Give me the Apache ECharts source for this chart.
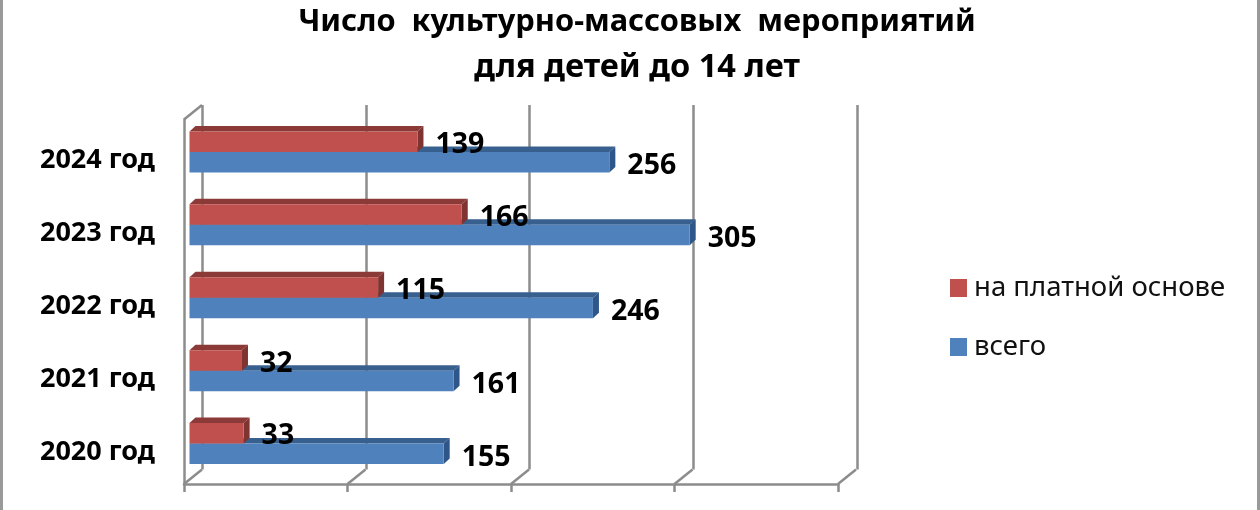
<!DOCTYPE html>
<html>
<head>
<meta charset="utf-8">
<style>html,body{margin:0;padding:0;background:#fff}#c{width:1260px;height:510px}</style>
<script src="https://cdn.jsdelivr.net/npm/echarts@6/dist/echarts.min.js"></script>
</head>
<body>
<div id="c"></div>
<script>
const categories = ['2020 год','2021 год','2022 год','2023 год','2024 год'];
const paidValues = [33,32,115,166,139];
const totalValues = [155,161,246,305,256];
const paidName = 'на платной основе';
const totalName = 'всего';
const axisTicks = [0,100,200,300,400];
const titleLine1 = 'Число  культурно-массовых  мероприятий';
const titleLine2 = 'для детей до 14 лет';

const FONT = '"Noto Sans", sans-serif';
const WALL = '#8c8c8c';
const DEPTH = [18,-14.5];
const BAR_DEPTH = [6,-5.5];
const BAR_H = 20.5;
const COL = {
  red:{front:'#C0504D',top:'#8C3A38',side:'#7F3432'},
  blue:{front:'#4F81BD',top:'#38608F',side:'#2F5688'}
};

function poly(points,fill){return {type:'polygon',shape:{points},style:{fill}};}

function barRender(kind){
  return function(params,api){
    const v=api.value(0),p0=api.coord([0,api.value(1)]),p1=api.coord([v,api.value(1)]);
    const y0=kind==='red'?p0[1]-BAR_H:p0[1],y1=y0+BAR_H,x0=p0[0],x1=p1[0];
    const dx=BAR_DEPTH[0],dy=BAR_DEPTH[1],c=COL[kind];
    return {type:'group',children:[
      poly([[x0,y0],[x0+dx,y0+dy],[x1+dx,y0+dy],[x1,y0]],c.top),
      poly([[x1,y0],[x1+dx,y0+dy],[x1+dx,y1+dy],[x1,y1]],c.side),
      {type:'rect',shape:{x:x0,y:y0,width:x1-x0,height:BAR_H},style:{fill:c.front}},
      {type:'text',z2:50,style:{text:String(v),x:x1+dx+12,y:y0+BAR_H/2+(kind==='red'?3:4),
        verticalAlign:'middle',align:'left',fill:'#000',font:'bold 28.5px '+FONT}}
    ]};
  };
}
function floorRender(params,api){
  const p=api.coord([api.value(0),categories[0]]);
  const size=api.size([0,1]);
  const y=p[1]+size[1]/2;
  return {type:'line',shape:{x1:p[0],y1:y,x2:p[0]+DEPTH[0],y2:y+DEPTH[1]},style:{stroke:WALL,lineWidth:2.5}};
}
function topLeftRender(params,api){
  const p=api.coord([0,categories[categories.length-1]]);
  const size=api.size([0,1]);
  const y=p[1]-size[1]/2;
  return {type:'line',shape:{x1:p[0],y1:y,x2:p[0]+DEPTH[0],y2:y+DEPTH[1]},style:{stroke:WALL,lineWidth:2.5}};
}

const valueAxisBase={type:'value',min:0,max:400,interval:100,axisLabel:{show:false}};
const catAxisBase={type:'category',data:categories,axisTick:{show:false}};

const chart=echarts.init(document.getElementById('c'),null,{renderer:'canvas'});
chart.setOption({
  animation:false,
  backgroundColor:'#fff',
  title:{text:'{a|'+titleLine1+'}\n{b|'+titleLine2+'}',left:632,top:-5,textAlign:'center',
    textStyle:{fontFamily:FONT,fontWeight:'bold',color:'#000',lineHeight:45,
      rich:{
        a:{fontFamily:FONT,fontWeight:'bold',fontSize:30.8,lineHeight:45,color:'#000'},
        b:{fontFamily:FONT,fontWeight:'bold',fontSize:32.6,lineHeight:45,color:'#000'}
      }}},
  legend:{orient:'vertical',left:945,top:269,itemWidth:17,itemHeight:18,itemGap:31,
    data:[{name:paidName,icon:'rect'},{name:totalName,icon:'rect'}],
    textStyle:{fontFamily:FONT,fontSize:27.5,color:'#111',padding:[0,0,0,2]}},
  graphic:[
    {type:'rect',shape:{x:0,y:0,width:3,height:510},style:{fill:'#9a9a9a'}},
    {type:'rect',shape:{x:1257,y:0,width:3,height:510},style:{fill:'#9a9a9a'}}
  ],
  grid:[
    {left:202,top:105,width:655,height:364.5},
    {left:184,top:119.5,width:654,height:364.5},
    {left:189.5,top:115.5,width:656,height:364.5},
    {left:184,top:124,width:654,height:364.5}
  ],
  xAxis:[
    Object.assign({},valueAxisBase,{gridIndex:0,axisLine:{show:false},axisTick:{show:false},
      splitLine:{show:true,lineStyle:{color:WALL,width:2.5}}}),
    Object.assign({},valueAxisBase,{gridIndex:1,splitLine:{show:false},
      axisLine:{show:true,onZero:false,lineStyle:{color:WALL,width:2.5}},
      axisTick:{show:true,length:8,lineStyle:{color:WALL,width:2.5}}}),
    Object.assign({},valueAxisBase,{gridIndex:2,show:false,splitLine:{show:false}}),
    Object.assign({},valueAxisBase,{gridIndex:3,show:false,splitLine:{show:false}})
  ],
  yAxis:[
    Object.assign({},catAxisBase,{gridIndex:0,axisLine:{show:false},axisLabel:{show:false}}),
    Object.assign({},catAxisBase,{gridIndex:1,axisLine:{show:true,lineStyle:{color:WALL,width:2.5}},axisLabel:{show:false}}),
    Object.assign({},catAxisBase,{gridIndex:2,show:false}),
    Object.assign({},catAxisBase,{gridIndex:3,axisLine:{show:false},
      axisLabel:{show:true,margin:29,color:'#000',fontFamily:FONT,fontWeight:'bold',fontSize:27}})
  ],
  series:[
    {type:'custom',name:'floor',silent:true,xAxisIndex:1,yAxisIndex:1,clip:false,z:1,
      data:axisTicks.map(v=>[v]),encode:{x:0},renderItem:floorRender},
    {type:'custom',name:'corner',silent:true,xAxisIndex:1,yAxisIndex:1,clip:false,z:1,
      data:[[0]],encode:{x:0},renderItem:topLeftRender},
    {type:'custom',name:totalName,xAxisIndex:2,yAxisIndex:2,clip:false,z:3,
      itemStyle:{color:COL.blue.front},encode:{x:0,y:1},
      data:totalValues.map((v,i)=>[v,i]),renderItem:barRender('blue')},
    {type:'custom',name:paidName,xAxisIndex:2,yAxisIndex:2,clip:false,z:4,
      itemStyle:{color:COL.red.front},encode:{x:0,y:1},
      data:paidValues.map((v,i)=>[v,i]),renderItem:barRender('red')}
  ]
});
</script>
</body>
</html>
